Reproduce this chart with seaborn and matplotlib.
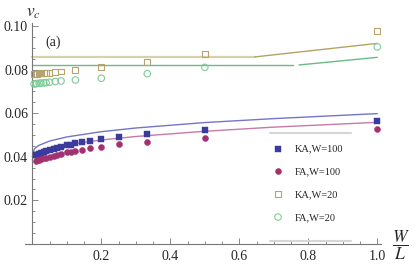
import matplotlib
matplotlib.use('Agg')
import matplotlib.pyplot as plt
import seaborn as sns
import pandas as pd
from matplotlib.lines import Line2D
from matplotlib.ticker import MultipleLocator, FixedLocator

# W/L values of the simulated systems
x_w100 = [1.0, 0.5, 0.3333, 0.25, 0.2, 0.1667, 0.1429, 0.125, 0.1111, 0.1,
          0.0833, 0.0714, 0.0625, 0.05, 0.04, 0.0333, 0.025, 0.02, 0.0143, 0.01]
ka_w100 = [0.0566, 0.0523, 0.0503, 0.0491, 0.0480, 0.0472, 0.0466, 0.0461, 0.0456, 0.0452,
           0.0446, 0.0441, 0.0437, 0.0431, 0.0426, 0.0422, 0.0417, 0.0414, 0.0410, 0.0407]
fa_w100 = [0.0526, 0.0486, 0.0469, 0.0457, 0.0446, 0.0439, 0.0433, 0.0428, 0.0424, 0.0420,
           0.0414, 0.0409, 0.0405, 0.0400, 0.0396, 0.0393, 0.0389, 0.0386, 0.0383, 0.0381]

x_w20 = [1.0, 0.5, 0.3333, 0.2, 0.125, 0.0833, 0.0667, 0.05, 0.04, 0.0333,
         0.025, 0.02, 0.0125, 0.01, 0.005]
ka_w20 = [0.0977, 0.0870, 0.0835, 0.0813, 0.0798, 0.0791, 0.0788, 0.0786, 0.0785, 0.0784,
          0.0783, 0.0782, 0.0781, 0.0780, 0.0779]
fa_w20 = [0.0904, 0.0810, 0.0781, 0.0760, 0.0752, 0.0748, 0.0745, 0.0742, 0.0740, 0.0739,
          0.0738, 0.0737, 0.0736, 0.0735, 0.0734]

# theory curves
x_fit = [0, 0.005, 0.01, 0.02, 0.05, 0.1, 0.2, 0.3, 0.5, 0.7, 1.0]
ka_fit = [0.0400, 0.0433, 0.0442, 0.0453, 0.0472, 0.0491, 0.0515, 0.0532, 0.0557, 0.0575, 0.0598]
fa_fit = [0.0385, 0.0407, 0.0414, 0.0423, 0.0439, 0.0455, 0.0477, 0.0493, 0.0517, 0.0536, 0.0558]

ka20_x = [0, 0.645, 1.0]
ka20_y = [0.0858, 0.0858, 0.0920]
fa20_x1 = [0, 0.756]
fa20_y1 = [0.0820, 0.0820]
fa20_x2 = [0.773, 1.0]
fa20_y2 = [0.0821, 0.0856]

sns.set_theme(style='white')
plt.rcParams['font.family'] = ['Liberation Serif', 'DejaVu Serif']
plt.rcParams['mathtext.fontset'] = 'stix'

fig = plt.figure(figsize=(4.15, 2.67), dpi=100)
ax = fig.add_axes([0.0595, 0.0861, 0.858, 0.829])

c_blue = '#3b3b9e'
c_mag = '#a3306f'
c_olive = '#b5a46e'
c_green = '#7fcc98'

# lines
sns.lineplot(x=x_fit, y=ka_fit, ax=ax, color='#7474c8', lw=1.0, sort=False, estimator=None)
sns.lineplot(x=x_fit, y=fa_fit, ax=ax, color='#c77aa5', lw=1.0, sort=False, estimator=None)
sns.lineplot(x=ka20_x[:2], y=ka20_y[:2], ax=ax, color='#d9d0ae', lw=1.6, estimator=None)
sns.lineplot(x=ka20_x[1:], y=ka20_y[1:], ax=ax, color='#b3a366', lw=1.0, estimator=None)
sns.lineplot(x=fa20_x1, y=fa20_y1, ax=ax, color='#6cba86', lw=1.0, estimator=None)
sns.lineplot(x=fa20_x2, y=fa20_y2, ax=ax, color='#6cba86', lw=1.0, estimator=None)

# points
sns.scatterplot(x=x_w100, y=ka_w100, ax=ax, marker='s', s=13, color=c_blue,
                edgecolor=c_blue, linewidth=0.3, label='KA,W=100', zorder=3)
sns.scatterplot(x=x_w100, y=fa_w100, ax=ax, marker='o', s=19, color=c_mag,
                edgecolor=c_mag, linewidth=0.3, label='FA,W=100', zorder=3)
sns.scatterplot(x=x_w20, y=ka_w20, ax=ax, marker='s', s=18, facecolor='none',
                edgecolor=c_olive, linewidth=0.8, label='KA,W=20', zorder=3)
sns.scatterplot(x=x_w20, y=fa_w20, ax=ax, marker='o', s=22, facecolor='none',
                edgecolor=c_green, linewidth=0.8, label='FA,W=20', zorder=3)

ax.set_xlim(-0.022, 1.01)
ax.set_ylim(0, 0.1015)
ax.spines['left'].set_position(('data', 0))
ax.spines['right'].set_visible(False)
ax.spines['top'].set_visible(False)
for sp in ('left', 'bottom'):
    ax.spines[sp].set_color('#777777')
    ax.spines[sp].set_linewidth(0.8)

ax.xaxis.set_major_locator(FixedLocator([0.2, 0.4, 0.6, 0.8, 1.0]))
ax.xaxis.set_minor_locator(MultipleLocator(0.05))
ax.yaxis.set_major_locator(FixedLocator([0.02, 0.04, 0.06, 0.08, 0.10]))
ax.yaxis.set_minor_locator(MultipleLocator(0.005))
ax.set_xticklabels(['0.2', '0.4', '0.6', '0.8', '1.0'])
ax.set_yticklabels(['0.02', '0.04', '0.06', '0.08', '0.10'])
ax.tick_params(which='both', direction='in', color='#777777', width=0.6)
ax.tick_params(which='major', length=4.5, labelsize=10, pad=4)
ax.tick_params(which='minor', length=2.5)
ax.tick_params(axis='x', which='both', bottom=True)
ax.tick_params(axis='y', which='both', left=True)
ax.tick_params(axis='y', which='major', pad=3)
ax.set_xlabel('')
ax.set_ylabel('')

ax.text(0.06, 0.0927, '(a)', fontsize=10, ha='center', va='center')
fig.text(33 / 415, 1 - 13 / 267, r'$v_c$', fontsize=12.5, ha='center', va='center')
fig.text(401 / 415, 1 - 245 / 267, r'$\dfrac{W}{L}$', fontsize=12.5, ha='center', va='center')

leg = ax.legend(loc='upper left', bbox_to_anchor=(272.8 / 415, 1 - 144 / 267),
                bbox_transform=fig.transFigure, frameon=False, fontsize=7.5,
                borderpad=0, borderaxespad=0, handlelength=1.0, handletextpad=1.1,
                labelspacing=1.3)
for y in (133, 241):
    fig.add_artist(Line2D([270 / 415, 351 / 415], [1 - y / 267] * 2,
                          transform=fig.transFigure, color='#d6d6d6', lw=1.5))

fig.savefig('out.png', dpi=100)
